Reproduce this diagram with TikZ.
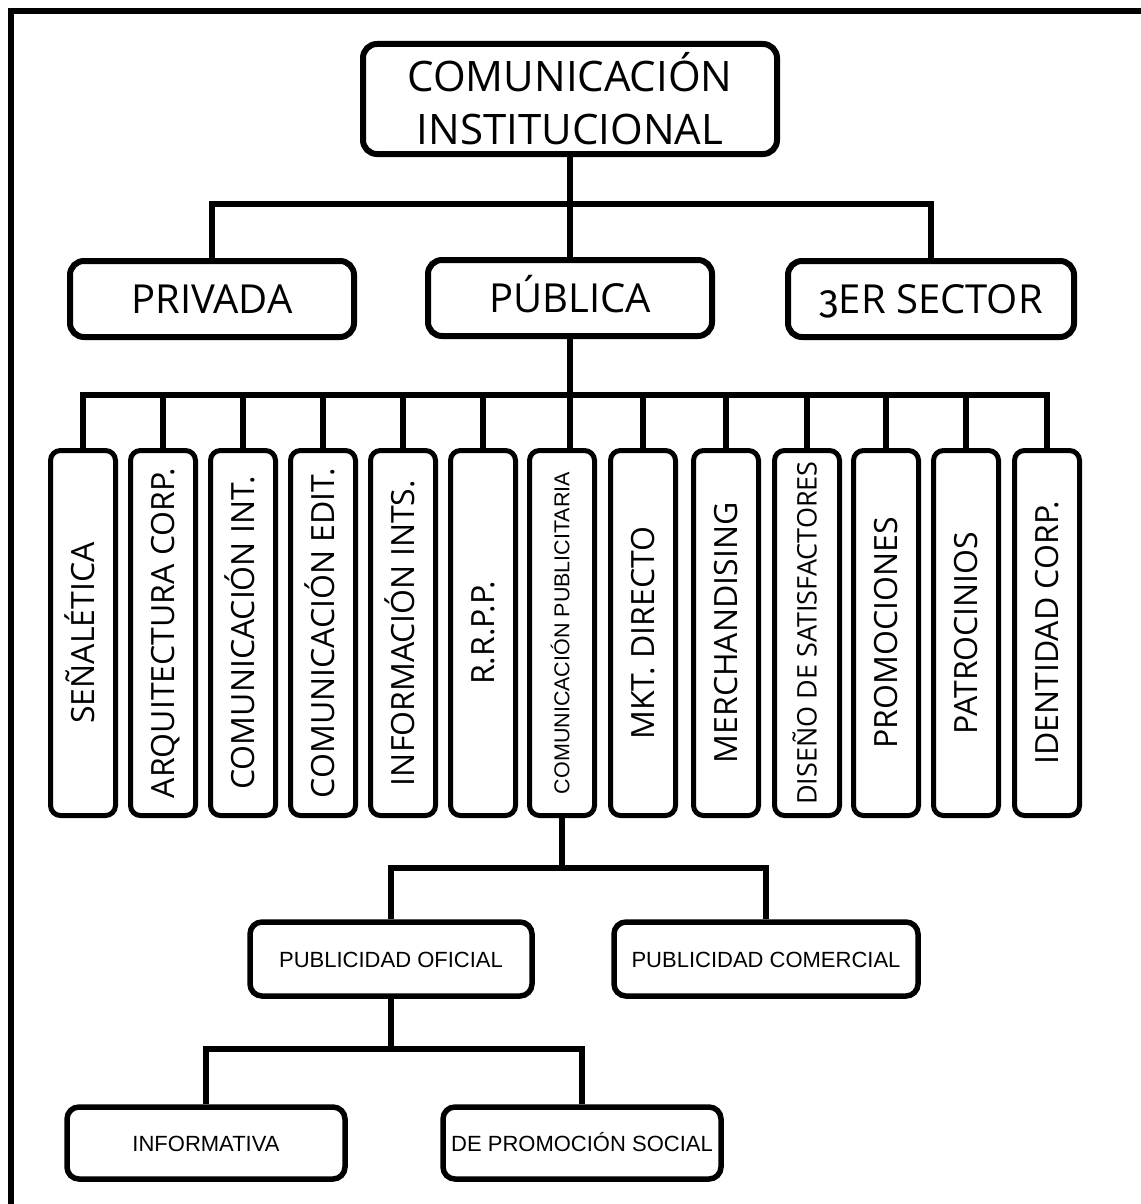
\documentclass[tikz,border=0pt]{standalone}
\usepackage{fontspec}
\usepackage{graphicx}
\setmainfont{Open Sans}
\newfontfamily\plainsans{Liberation Sans}
\newfontfamily\oldstylefig{Fira Sans}[Numbers=OldStyle]
% upright label turned to read from bottom to top, centred on its capitals
\newcommand\vlabel[1]{\rotatebox{90}{\smash{#1}\vphantom{X}}}

\begin{document}
\begin{tikzpicture}[x=1pt,y=-1pt,
  box/.style={draw, line width=6pt, rounded corners=14pt, fill=white,
    inner sep=0pt, align=center},
  headbox/.style={box, minimum width=284pt, minimum height=76pt,
    text height=29pt, text depth=0pt,
    font=\fontsize{40}{50}\selectfont},
  vbox/.style={draw, line width=5pt, rounded corners=10pt, fill=white,
    inner sep=0pt, minimum width=65pt, minimum height=365pt,
    font=\fontsize{32}{38}\selectfont},
  lowbox/.style={box, line width=5.5pt, rounded corners=12pt,
    minimum height=74pt, text height=16pt, text depth=0pt,
    font=\plainsans\fontsize{22}{26}\selectfont},
  wire/.style={line width=6pt}
]
\useasboundingbox (0,0) rectangle (1140,1204);

% frame along the top and left edges
\draw[line width=6pt] (11,1210) -- (11,11) -- (1146,11);

% root
\node[box, minimum width=414pt, minimum height=110pt,
      font=\fontsize{42}{53}\selectfont] (root) at (570,99)
      {COMUNICACIÓN\\INSTITUCIONAL};

% sectors
\node[headbox] (priv) at (212,299) {PRIVADA};
\node[headbox] (pub)  at (570,298) {PÚBLICA};
\node[headbox, minimum width=286pt] (ter) at (931,299)
      {{\oldstylefig 3}ER SECTOR};

% areas of public communication
\node[vbox] (v1)  at (83,633)  {\vlabel{SEÑALÉTICA}};
\node[vbox] (v2)  at (163,633) {\vlabel{ARQUITECTURA CORP.}};
\node[vbox] (v3)  at (243,633) {\vlabel{COMUNICACIÓN INT.}};
\node[vbox] (v4)  at (323,633) {\vlabel{COMUNICACIÓN EDIT.}};
\node[vbox] (v5)  at (403,633) {\vlabel{INFORMACIÓN INTS.}};
\node[vbox] (v6)  at (483,633) {\vlabel{R.R.P.P.}};
\node[vbox, font=\plainsans\fontsize{21.5}{26}\selectfont] (v7) at (562,633)
      {\vlabel{COMUNICACIÓN PUBLICITARIA}};
\node[vbox] (v8)  at (643,633) {\vlabel{MKT. DIRECTO}};
\node[vbox] (v9)  at (726,633) {\vlabel{MERCHANDISING}};
\node[vbox, font=\fontsize{27}{32}\selectfont] (v10) at (807,633)
      {\vlabel{DISEÑO DE SATISFACTORES}};
\node[vbox] (v11) at (886,633) {\vlabel{PROMOCIONES}};
\node[vbox] (v12) at (966,633) {\vlabel{PATROCINIOS}};
\node[vbox] (v13) at (1047,633) {\vlabel{IDENTIDAD CORP.}};

% advertising
\node[lowbox, minimum width=282pt] (po) at (391,959) {PUBLICIDAD OFICIAL};
\node[lowbox, minimum width=304pt] (pc) at (766,959) {PUBLICIDAD COMERCIAL};

% official advertising
\node[lowbox, minimum width=278pt, minimum height=72pt] (inf) at (206,1143)
      {INFORMATIVA};
\node[lowbox, minimum width=278pt, minimum height=72pt] (dps) at (582,1143)
      {DE PROMOCIÓN SOCIAL};

% bus lines
\coordinate (bus1) at (570,204);
\coordinate (bus2) at (570,395);
\coordinate (bus3) at (562,868);
\coordinate (bus4) at (391,1049);

\draw[wire] (root.south) -- (pub.north);
\draw[wire] (priv.north) |- (bus1) -| (ter.north);

\draw[wire] (pub.south) -- (pub.south |- v7.north);
\draw[wire] (v1.north) |- (bus2) -| (v13.north);
\foreach \i in {2,...,6,8,9,10,11,12}
  \draw[wire] (v\i.north) -- (v\i.north |- bus2);

\draw[wire] (v7.south) -- (bus3);
\draw[wire] (po.north) |- (bus3) -| (pc.north);

\draw[wire] (po.south) -- (bus4);
\draw[wire] (inf.north) |- (bus4) -| (dps.north);
\end{tikzpicture}
\end{document}
